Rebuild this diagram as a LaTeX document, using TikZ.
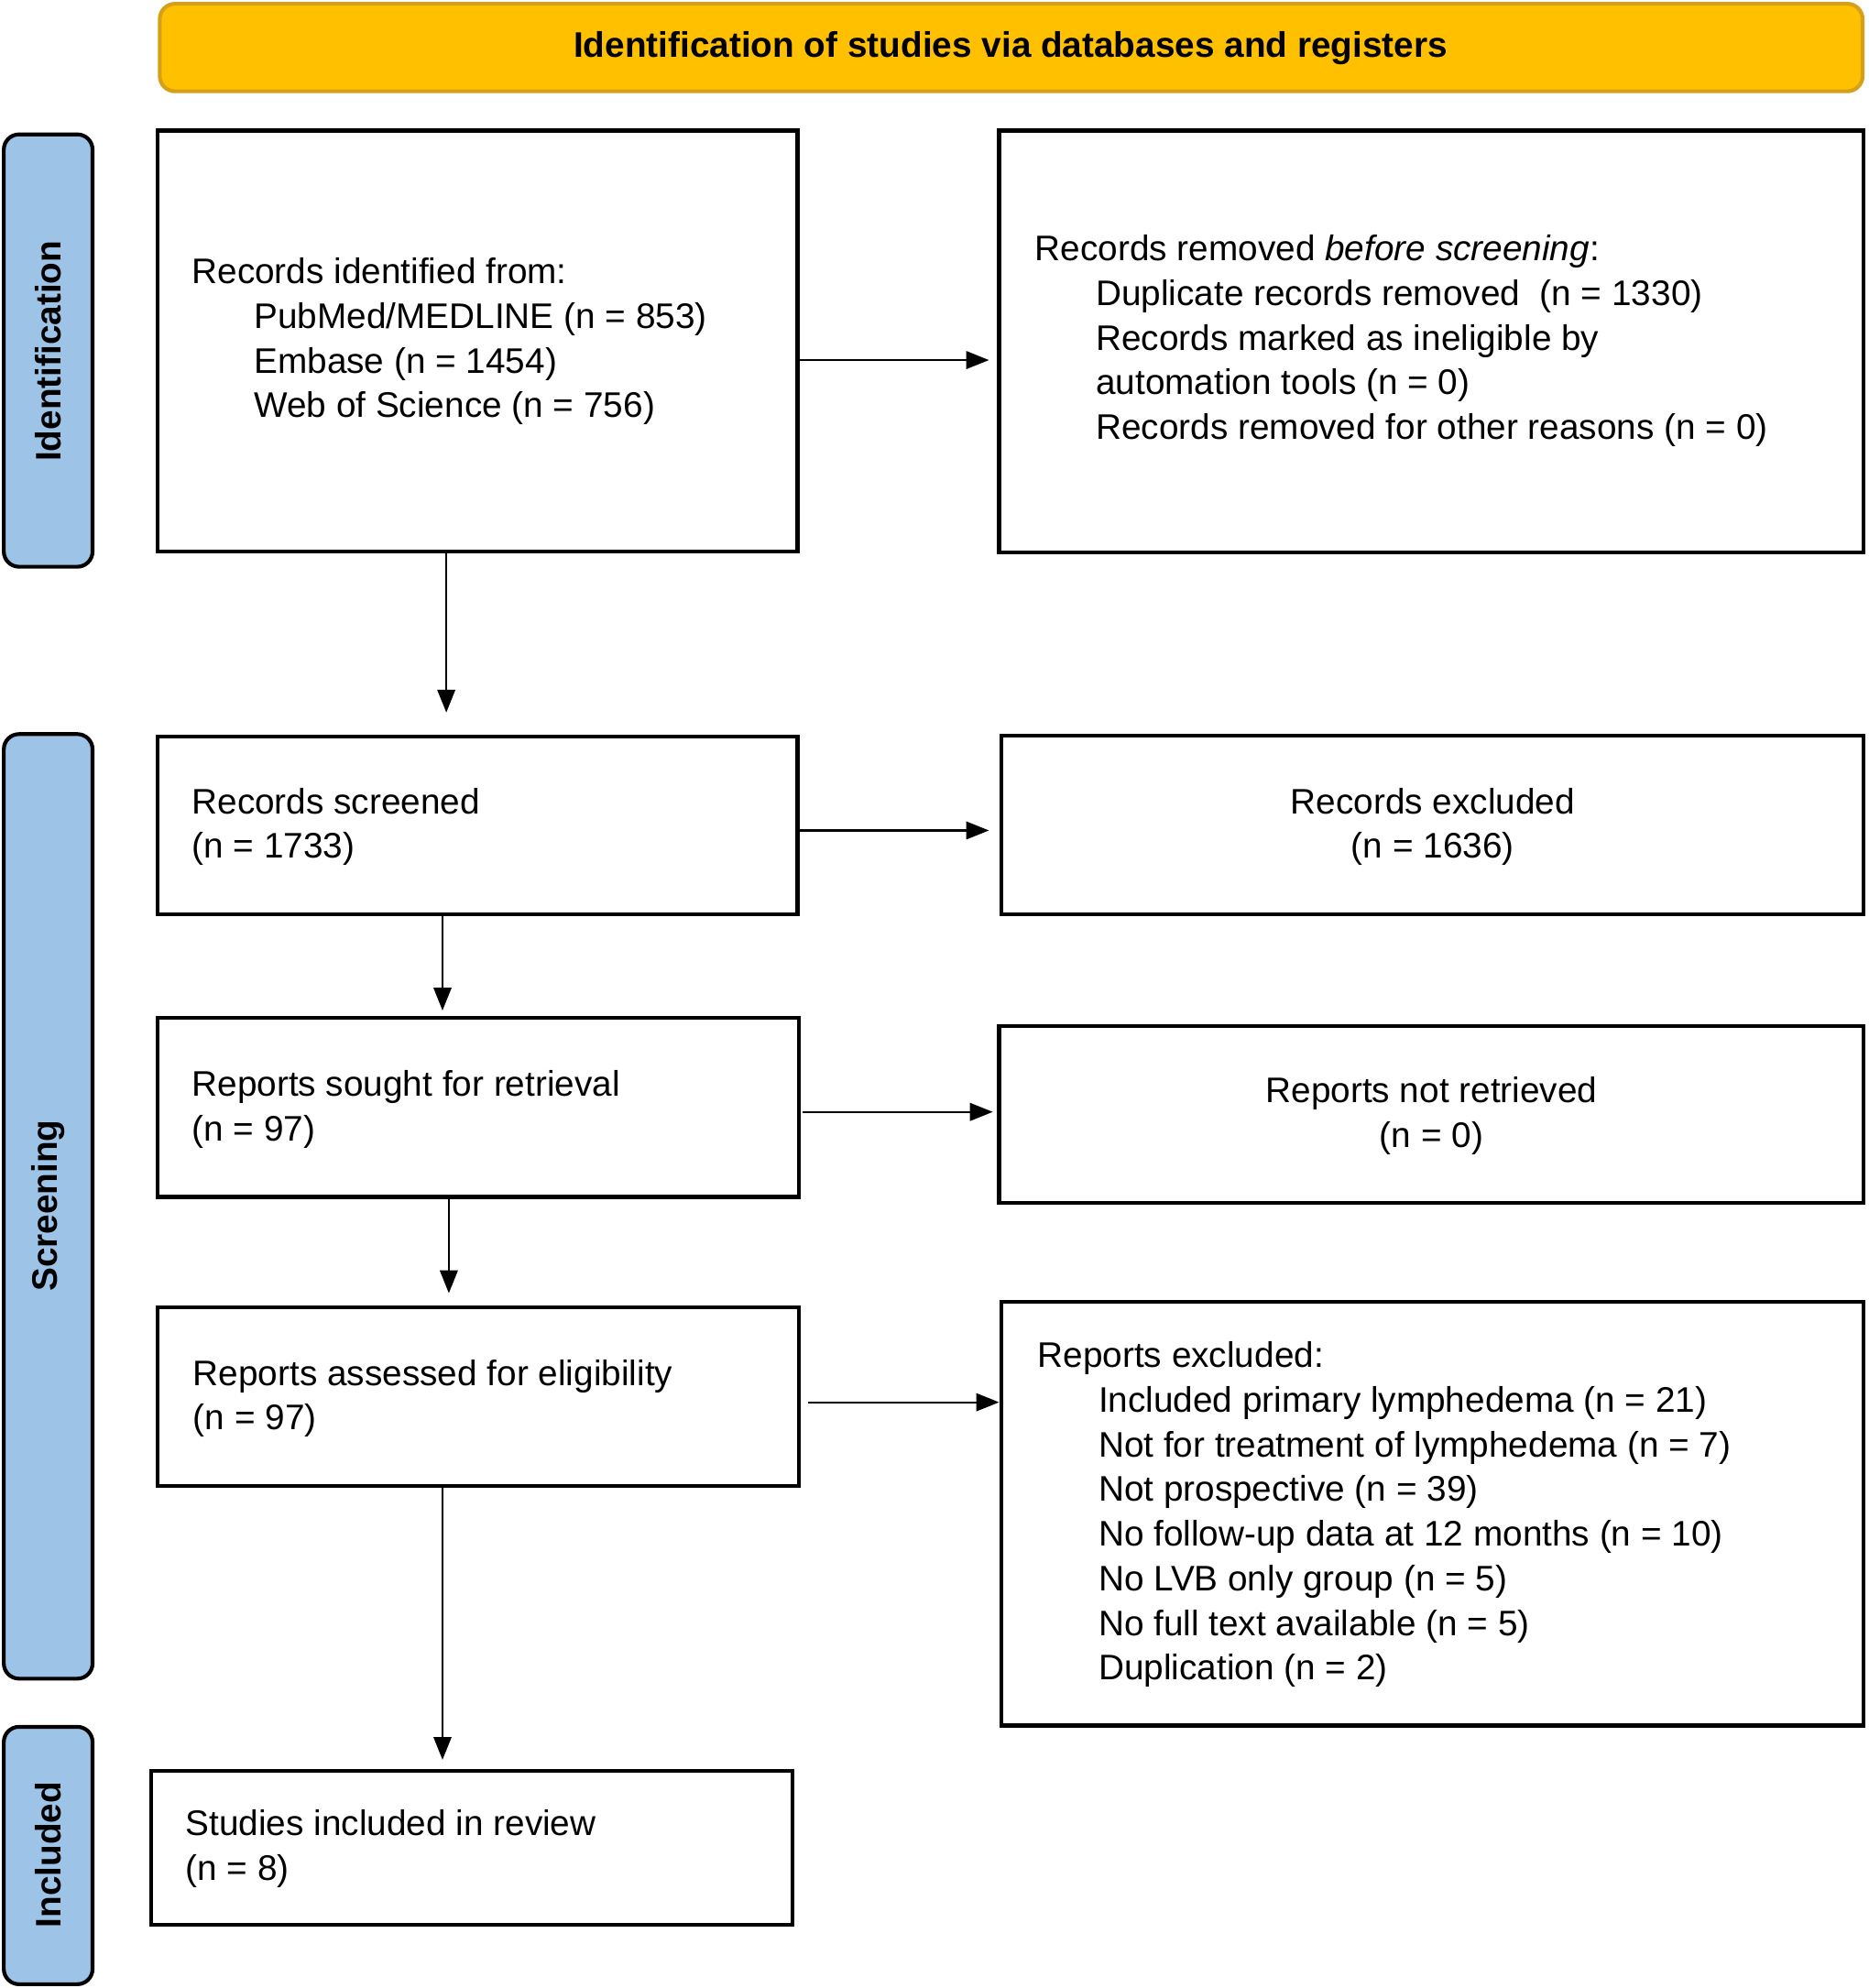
\documentclass[tikz,border=0pt]{standalone}
\usepackage{fontspec}
\setmainfont{Liberation Sans}
\usetikzlibrary{arrows.meta}
\begin{document}
\begin{tikzpicture}[x=0.5pt,y=-0.5pt,
  box/.style={draw,line width=1.5pt},
  side/.style={draw,line width=1.5pt,fill=sideblue,rounded corners=6pt},
  txt/.style={anchor=north west,inner sep=0pt,align=left,font=\fontsize{14pt}{17.6pt}\selectfont},
  ctxt/.style={anchor=north,inner sep=0pt,align=center,font=\fontsize{14pt}{17.6pt}\selectfont},
  lab/.style={rotate=90,font=\fontsize{14pt}{17pt}\selectfont\bfseries},
  arr/.style={-{Triangle[length=9pt,width=7pt]},line width=0.8pt}]
\definecolor{sideblue}{HTML}{9DC3E6}
\definecolor{gold}{HTML}{FFC000}
\definecolor{goldb}{HTML}{D4A017}
\useasboundingbox (0,0) rectangle (1474,1568);
% banner
\draw[line width=1.5pt,draw=goldb,fill=gold,rounded corners=6pt] (126,3) rectangle (1469,72);
\node[font=\fontsize{14pt}{17pt}\selectfont\bfseries] (ban) at (797,38) {Identification of studies via databases and registers};
% side bars
\draw[side] (3,106) rectangle (73,447);
\draw[side] (3,579) rectangle (73,1324);
\draw[side] (3,1362) rectangle (73,1565);
\node[lab] (l1) at (38,277) {Identification};
\node[lab] (l2) at (38,951) {Screening};
\node[lab] (l3) at (38,1463) {Included};
% boxes
\node[box,minimum width=252.5pt,minimum height=166pt,inner sep=0pt] (A) at (376.5,269) {};
\node[box,minimum width=341pt,minimum height=166.5pt,inner sep=0pt] (B) at (1129,269.5) {};
\node[box,minimum width=252.5pt,minimum height=70pt,inner sep=0pt] (C) at (376.5,651) {};
\node[box,minimum width=340pt,minimum height=70.5pt,inner sep=0pt] (D) at (1130,650.5) {};
\node[box,minimum width=253pt,minimum height=70.5pt,inner sep=0pt] (E) at (377,873.5) {};
\node[box,minimum width=341pt,minimum height=70pt,inner sep=0pt] (F) at (1129,879) {};
\node[box,minimum width=253pt,minimum height=70.5pt,inner sep=0pt] (G) at (377,1101.5) {};
\node[box,minimum width=340pt,minimum height=167pt,inner sep=0pt] (H) at (1130,1194) {};
\node[box,minimum width=253pt,minimum height=60.5pt,inner sep=0pt] (I) at (372,1457.5) {};
% texts
\node[txt] (tA) at (151,203) {Records identified from:\\\hspace*{24.5pt}PubMed/MEDLINE (n = 853)\\\hspace*{24.5pt}Embase (n = 1454)\\\hspace*{24.5pt}Web of Science (n = 756)};
\node[txt] (tB) at (816,185) {Records removed \textit{before screening}:\\\hspace*{24pt}Duplicate records removed\ \ (n = 1330)\\\hspace*{24pt}Records marked as ineligible by\\\hspace*{24pt}automation tools (n = 0)\\\hspace*{24pt}Records removed for other reasons (n = 0)};
\node[txt] (tC) at (151,621) {Records screened\\(n = 1733)};
\node[ctxt] (tD) at (1130,621) {Records excluded\\(n = 1636)};
\node[txt] (tE) at (151,844) {Reports sought for retrieval\\(n = 97)};
\node[ctxt] (tF) at (1129,849) {Reports not retrieved\\(n = 0)};
\node[txt] (tG) at (152,1072) {Reports assessed for eligibility\\(n = 97)};
\node[txt] (tH) at (818,1058) {Reports excluded:\\\hspace*{24pt}Included primary lymphedema (n = 21)\\\hspace*{24pt}Not for treatment of lymphedema (n = 7)\\\hspace*{24pt}Not prospective (n = 39)\\\hspace*{24pt}No follow-up data at 12 months (n = 10)\\\hspace*{24pt}No LVB only group (n = 5)\\\hspace*{24pt}No full text available (n = 5)\\\hspace*{24pt}Duplication (n = 2)};
\node[txt] (tI) at (146,1427) {Studies included in review\\(n = 8)};
% arrows
\coordinate (a1) at (352,562); \draw[arr] (A.south -| a1) -- (a1);
\coordinate (a2) at (349,797); \draw[arr] (C.south -| a2) -- (a2);
\coordinate (a3) at (354,1020); \draw[arr] (E.south -| a3) -- (a3);
\coordinate (a4) at (349,1388); \draw[arr] (G.south -| a4) -- (a4);
\coordinate (h1) at (780,284); \draw[arr] (A.east |- h1) -- (h1);
\coordinate (h2) at (780,655); \draw[arr] (C.east |- h2) -- (h2);
\coordinate (h3s) at (633,877); \coordinate (h3) at (783,877); \draw[arr] (h3s) -- (h3);
\coordinate (h4s) at (637,1106); \coordinate (h4) at (788,1106); \draw[arr] (h4s) -- (h4);
\end{tikzpicture}
\end{document}
